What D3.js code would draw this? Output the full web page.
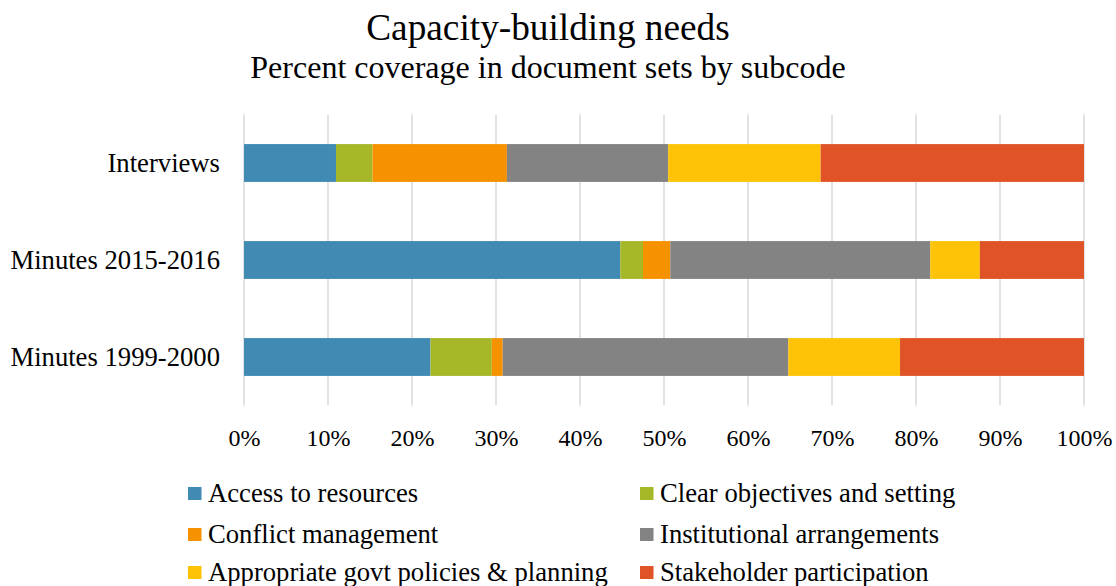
<!DOCTYPE html>
<html>
<head>
<meta charset="utf-8">
<script src="https://cdn.jsdelivr.net/npm/d3@7/dist/d3.min.js"></script>
<style>
  html, body { margin: 0; padding: 0; background: #fff; }
  svg { display: block; }
  text { font-family: "Liberation Serif", "Times New Roman", serif; fill: #000; }
</style>
</head>
<body>
<svg id="chart" width="1116" height="586"></svg>
<script>
const categories = ["Interviews", "Minutes 2015-2016", "Minutes 1999-2000"];
const seriesNames = [
  "Access to resources",
  "Clear objectives and setting",
  "Conflict management",
  "Institutional arrangements",
  "Appropriate govt policies & planning",
  "Stakeholder participation"
];
const accessToResources = [10.95, 44.8, 22.2];
const clearObjectives = [4.35, 2.7, 7.3];
const conflictManagement = [16.0, 3.25, 1.3];
const institutionalArrangements = [19.2, 30.95, 34.0];
const appropriatePolicies = [18.15, 5.9, 13.3];
const stakeholderParticipation = [31.35, 12.4, 21.9];
const xTicks = [0, 10, 20, 30, 40, 50, 60, 70, 80, 90, 100];
const colors = ["#418AB3", "#A6B727", "#F69200", "#838383", "#FEC306", "#DF5327"];

const seriesValues = [accessToResources, clearObjectives, conflictManagement,
  institutionalArrangements, appropriatePolicies, stakeholderParticipation];

const rows = categories.map((c, i) => {
  const r = { category: c };
  seriesNames.forEach((s, j) => { r[s] = seriesValues[j][i]; });
  return r;
});

const svg = d3.select("#chart");
const pLeft = 244, pRight = 1084, pTop = 114.5, pBottom = 405.5;

const x = d3.scaleLinear().domain([0, 100]).range([pLeft, pRight]);
const y = d3.scaleBand().domain(categories).range([pTop, pBottom]).paddingInner(0.61).paddingOuter(0.305);

// Title
svg.append("text").attr("x", 548).attr("y", 40).attr("text-anchor", "middle")
  .style("font-size", "37.3px").text("Capacity-building needs");
svg.append("text").attr("x", 548).attr("y", 78).attr("text-anchor", "middle")
  .style("font-size", "32px").text("Percent coverage in document sets by subcode");

// Gridlines
svg.append("g").selectAll("line").data(xTicks).join("line")
  .attr("x1", d => x(d)).attr("x2", d => x(d))
  .attr("y1", pTop).attr("y2", pBottom)
  .attr("stroke", "#d9d9d9").attr("stroke-width", 1.5);

// Bars
const stack = d3.stack().keys(seriesNames)(rows);
svg.append("g").selectAll("g").data(stack).join("g")
  .attr("fill", (d, i) => colors[i])
  .selectAll("rect").data(d => d).join("rect")
  .attr("x", d => x(d[0]))
  .attr("width", d => x(d[1]) - x(d[0]))
  .attr("y", d => y(d.data.category))
  .attr("height", y.bandwidth());

// X axis labels
const xAxis = d3.axisBottom(x).tickValues(xTicks).tickFormat(d => d + "%").tickSize(0).tickPadding(0);
const gx = svg.append("g").attr("transform", `translate(0, ${pBottom})`).call(xAxis);
gx.select(".domain").remove();
gx.selectAll("text").style("font-size", "24px").style("font-family", "Liberation Serif")
  .attr("dy", null).attr("y", 40.5);

// Y axis labels
const yAxis = d3.axisLeft(y).tickSize(0).tickPadding(0);
const gy = svg.append("g").attr("transform", `translate(220, 0)`).call(yAxis);
gy.select(".domain").remove();
gy.selectAll("text").style("font-size", "26.67px").style("font-family", "Liberation Serif")
  .attr("dy", "0.32em").attr("x", 0);

// Legend
const legendPos = [
  [188, 487], [640, 487],
  [188, 528], [640, 528],
  [188, 566], [640, 566]
];
const lg = svg.append("g").selectAll("g").data(seriesNames).join("g")
  .attr("transform", (d, i) => `translate(${legendPos[i][0]}, ${legendPos[i][1]})`);
lg.append("rect").attr("width", 13.5).attr("height", 13).attr("fill", (d, i) => colors[i]);
lg.append("text").attr("x", 20).attr("y", 14.5).style("font-size", "26.67px").text(d => d);
</script>
</body>
</html>
